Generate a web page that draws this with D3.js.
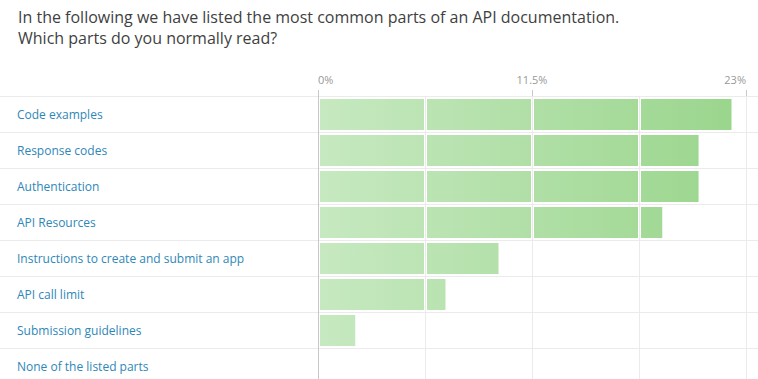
<!DOCTYPE html>
<html><head><meta charset="utf-8">
<script src="https://cdn.jsdelivr.net/npm/d3@7"></script>
<style>
html,body{margin:0;padding:0;background:#fff;}
svg{display:block;font-family:"Open Sans",sans-serif;}
</style></head>
<body><svg id="c" width="758" height="379"></svg>
<script>
const titleLines = ["In the following we have listed the most common parts of an API documentation.", "Which parts do you normally read?"];
const categories = ["Code examples","Response codes","Authentication","API Resources","Instructions to create and submit an app","API call limit","Submission guidelines","None of the listed parts"];
const values = [22.22, 20.45, 20.45, 18.5, 9.7, 6.85, 2.0, 0];
const tickValues = [0, 11.5, 23];
const tickLabels = ["0%", "11.5%", "23%"];
const gridValues = [0, 5.75, 11.5, 17.25, 23];

const svg = d3.select("#c");
const W = 758, H = 379;
const x = d3.scaleLinear().domain([0, 23]).range([318, 746]);
const y = d3.scaleBand().domain(categories).range([96, 96 + 36 * categories.length]).padding(0);

const defs = svg.append("defs");
const grad = defs.append("linearGradient").attr("id","g").attr("gradientUnits","userSpaceOnUse")
  .attr("x1", x(0)).attr("x2", x(23)).attr("y1",0).attr("y2",0);
grad.append("stop").attr("offset","0%").attr("stop-color","#c7e9c1");
grad.append("stop").attr("offset","100%").attr("stop-color","#99d58b");

// title
svg.append("g").selectAll("text").data(titleLines).join("text")
  .attr("x", 18).attr("y", (d,i) => 23 + i * 21)
  .attr("font-size", 16).attr("fill", "#3f3f3f").text(d => d);

// horizontal row lines
svg.append("g").selectAll("line").data(categories).join("line")
  .attr("x1", 0).attr("x2", W)
  .attr("y1", d => y(d) + 0.5).attr("y2", d => y(d) + 0.5)
  .attr("stroke", "#ebebeb").attr("stroke-width", 1);

// vertical grid lines
svg.append("g").selectAll("line").data(gridValues.slice(1)).join("line")
  .attr("x1", d => Math.round(x(d)) + 0.5).attr("x2", d => Math.round(x(d)) + 0.5)
  .attr("y1", 96).attr("y2", H)
  .attr("stroke", "#ebebeb");

// bars in segments
const segs = [];
values.forEach((v, i) => {
  for (let k = 0; k < gridValues.length - 1; k++) {
    const a = gridValues[k], b = gridValues[k + 1];
    if (v <= a) break;
    const x0 = Math.round(x(a)) + 2;
    const x1 = Math.min(x(v), Math.round(x(b)) - 1);
    segs.push({cat: categories[i], x0, x1});
  }
});
svg.append("g").selectAll("rect").data(segs).join("rect")
  .attr("x", d => d.x0).attr("width", d => Math.max(0, d.x1 - d.x0))
  .attr("y", d => y(d.cat) + 3).attr("height", y.bandwidth() - 5)
  .attr("fill", "url(#g)");

// zero axis line and ticks
svg.append("line").attr("x1", Math.round(x(0)) + 0.5).attr("x2", Math.round(x(0)) + 0.5)
  .attr("y1", 90).attr("y2", H).attr("stroke", "#c8c8c8");
svg.append("g").selectAll("line").data(tickValues.slice(1)).join("line")
  .attr("x1", d => Math.round(x(d)) + 0.5).attr("x2", d => Math.round(x(d)) + 0.5)
  .attr("y1", 90).attr("y2", 96).attr("stroke", "#c8c8c8");

svg.append("g").selectAll("text").data(tickValues).join("text")
  .attr("x", d => x(d)).attr("y", 84)
  .attr("text-anchor", (d,i) => i === 0 ? "start" : (i === tickValues.length - 1 ? "end" : "middle"))
  .attr("font-size", 11).attr("fill", "#999")
  .text((d,i) => tickLabels[i]);

// category labels
svg.append("g").selectAll("text").data(categories).join("text")
  .attr("x", 17).attr("y", d => y(d) + y.bandwidth() / 2 + 4.5)
  .attr("font-size", 12).attr("fill", "#2e87b8")
  .text(d => d);
</script></body></html>
